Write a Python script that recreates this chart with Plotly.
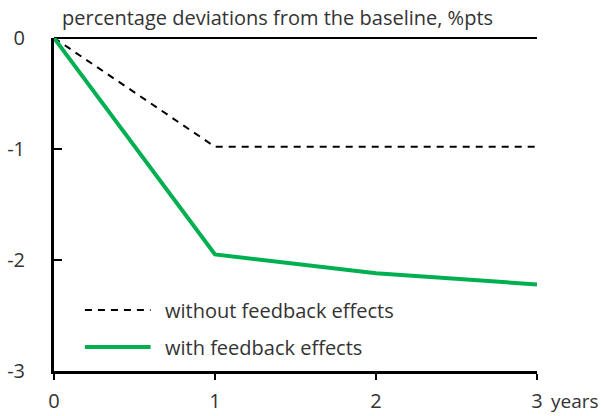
import plotly.graph_objects as go

years = [0, 1, 2, 3]
without_feedback = [0, -0.98, -0.98, -0.98]
with_feedback = [0, -1.95, -2.12, -2.22]
series_names = ["without feedback effects", "with feedback effects"]
y_ticks = [0, -1, -2, -3]

FONT = "Open Sans"
TXT = "#333333"
GREEN = "#00b050"
DASH = "7px,6px"

fig = go.Figure()
fig.add_trace(go.Scatter(x=years, y=without_feedback, mode="lines", name=series_names[0],
                         line=dict(color="black", width=2, dash=DASH), showlegend=False))
fig.add_trace(go.Scatter(x=years, y=with_feedback, mode="lines", name=series_names[1],
                         line=dict(color=GREEN, width=4), showlegend=False))

# manual legend
leg = [(0.183, dict(color="black", width=2, dash=DASH), series_names[0]),
       (0.072, dict(color=GREEN, width=4), series_names[1])]
for yy, ln, name in leg:
    fig.add_shape(type="line", xref="paper", yref="paper", x0=0.064, x1=0.2, y0=yy, y1=yy, line=ln)
    fig.add_annotation(xref="paper", yref="paper", x=0.226, y=yy, text=name, showarrow=False,
                       xanchor="left", yanchor="middle", font=dict(family=FONT, size=20, color=TXT))

fig.add_annotation(xref="paper", yref="paper", x=0.012, y=1, yshift=5, text="percentage deviations from the baseline, %pts",
                   showarrow=False, xanchor="left", yanchor="bottom", font=dict(family=FONT, size=20, color=TXT))
fig.add_annotation(xref="paper", yref="paper", x=1, y=0, xshift=12, yshift=-15, text="years",
                   showarrow=False, xanchor="left", yanchor="top", font=dict(family=FONT, size=19, color=TXT))

fig.update_layout(
    width=601, height=416,
    margin=dict(l=54, r=64, t=38, b=45),
    plot_bgcolor="white", paper_bgcolor="white",
    font=dict(family=FONT, size=20, color=TXT),
)
fig.update_xaxes(range=[0, 3], tickvals=years, ticktext=[str(v) for v in years], automargin=False,
                 showgrid=False, zeroline=False, showline=True, linecolor="black", linewidth=3,
                 ticks="outside", ticklen=6, tickwidth=2, tickcolor="black", ticklabelstandoff=4)
fig.update_yaxes(range=[-3, 0], tickvals=y_ticks, ticktext=[str(v) for v in y_ticks], automargin=False,
                 showgrid=False, zeroline=True, zerolinecolor="black", zerolinewidth=1.5,
                 showline=True, linecolor="black", linewidth=3,
                 ticks="inside", ticklen=8, tickwidth=2, tickcolor="black", ticklabelstandoff=22)

fig.write_html("out.html", config={"displayModeBar": False},
               post_script="document.body.style.margin='0';document.body.style.padding='0';")
